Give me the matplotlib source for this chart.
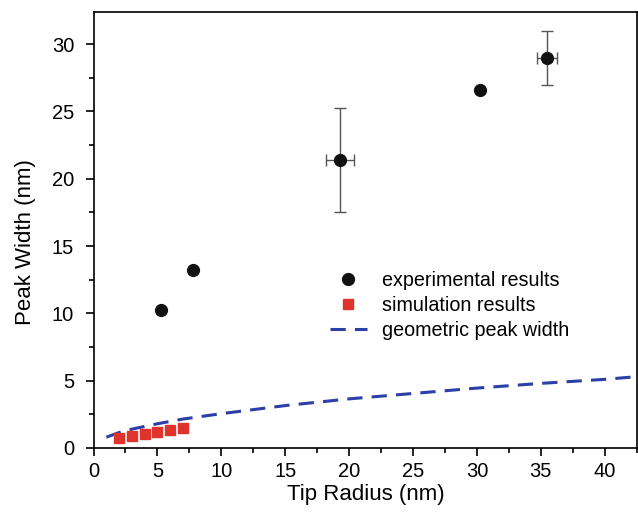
import matplotlib
matplotlib.use("Agg")
import matplotlib.pyplot as plt
from matplotlib.ticker import MultipleLocator

plt.rcParams['font.family'] = ['Liberation Sans', 'DejaVu Sans']

# experimental results
exp_x = [5.3, 7.8, 19.3, 30.25, 35.5]
exp_y = [10.25, 13.25, 21.4, 26.6, 29.0]
exp_xerr = [0.0, 0.0, 1.1, 0.0, 0.8]
exp_yerr = [0.0, 0.0, 3.85, 0.0, 2.0]

# simulation results
sim_x = [2, 3, 4, 5, 6, 7]
sim_y = [0.75, 0.92, 1.04, 1.17, 1.3, 1.48]

# geometric peak width
geo_x = [1, 2, 3, 5, 7, 10, 15, 20, 25, 30, 35, 40, 42.5]
geo_y = [0.8, 1.15, 1.4, 1.8, 2.15, 2.55, 3.15, 3.65, 4.05, 4.45, 4.8, 5.1, 5.3]

fig = plt.figure(figsize=(6.38, 5.16), dpi=100)
ax = fig.add_axes([0.1466, 0.1318, 0.8514, 0.8452])

ax.errorbar(exp_x, exp_y, xerr=exp_xerr, yerr=exp_yerr, fmt='none',
            ecolor='#555555', elinewidth=1.0, capsize=4, capthick=1.0, zorder=2)
ax.plot(exp_x, exp_y, 'o', color='#111111', markersize=8.5, zorder=3,
        label='experimental results')
ax.plot(sim_x, sim_y, 's', color='#e0332b', markersize=7.5, zorder=3,
        label='simulation results')
ax.plot(geo_x, geo_y, '--', color='#2c3fa6', linewidth=2.2, dashes=(5, 3),
        zorder=2, label='geometric peak width')

ax.set_xlim(0, 42.5)
ax.set_ylim(0, 32.4)
ax.xaxis.set_major_locator(MultipleLocator(5))
ax.xaxis.set_minor_locator(MultipleLocator(2.5))
ax.yaxis.set_major_locator(MultipleLocator(5))
ax.yaxis.set_minor_locator(MultipleLocator(2.5))
ax.tick_params(which='major', direction='out', length=6, width=1.2, labelsize=14.5)
ax.tick_params(which='minor', direction='out', length=3.5, width=1.2)
ax.tick_params(axis='y', which='major', pad=8)
ax.tick_params(axis='x', which='major', pad=4)
ax.tick_params(top=False, right=False, which='both')
for s in ax.spines.values():
    s.set_linewidth(1.2)

ax.set_xlabel('Tip Radius (nm)', fontsize=16)
ax.set_ylabel('Peak Width (nm)', fontsize=16)
ax.xaxis.set_label_coords(0.502, -0.082)
ax.yaxis.set_label_coords(-0.105, 0.472)

ax.legend(loc='upper left', bbox_to_anchor=(0.4355, 0.406), frameon=False,
          fontsize=14.2, handlelength=1.85, handletextpad=0.8, labelspacing=0.3,
          borderpad=0, borderaxespad=0)

fig.savefig('out.png', dpi=100)
